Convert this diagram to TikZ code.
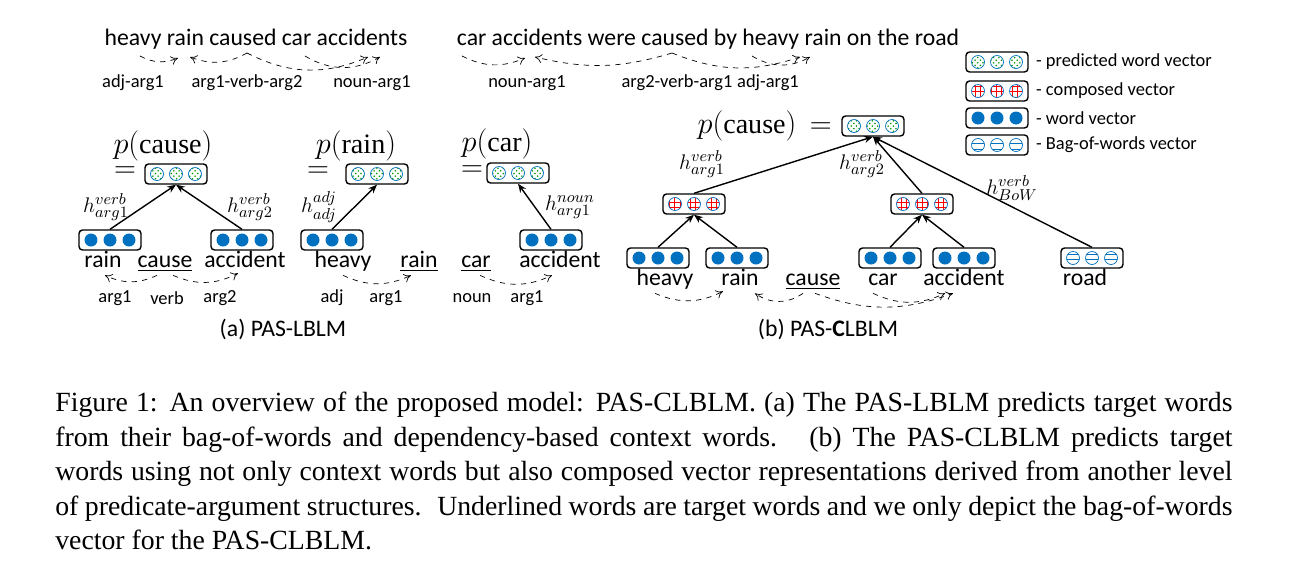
\documentclass[tikz,border=0pt]{standalone}
\usepackage{fontspec}
\setmainfont{Liberation Serif}
\newfontfamily\diag{Carlito}
\usetikzlibrary{arrows.meta,patterns,positioning}
\definecolor{wblue}{RGB}{0,112,192}

\tikzset{
  vbox/.style={draw,thick,rounded corners=2pt,minimum width=1.24cm,minimum height=0.4cm,inner sep=0pt},
  dot/.style={circle,draw=none,minimum size=0.26cm,inner sep=0pt},
  pred/.style={dot,draw=wblue,thin,pattern=crosshatch dots,pattern color=green!60!black},
  comp/.style={dot,draw=wblue,thin,pattern=grid,pattern color=red},
  word/.style={dot,fill=wblue},
  bow/.style={dot,draw=wblue,thin,pattern=horizontal lines,pattern color=wblue},
  wd/.style={font=\diag\fontsize{13.5}{15}\selectfont,inner sep=1pt,text height=0.75em,text depth=0.3em},
  sm/.style={font=\diag\fontsize{10.5}{12}\selectfont,inner sep=1pt},
  hl/.style={font=\fontsize{13}{15}\selectfont,inner sep=0pt},
  big/.style={font=\fontsize{16}{18}\selectfont},
  dep/.style={dashed,thin,-{To[length=4pt,width=5pt]}},
  up/.style={thick,-{Stealth[length=5pt,width=4pt]}},
}
% vector box with three dots
\newcommand\vecnode[3]{%
  \node[vbox] (#1) at (#2) {};
  \foreach \dx in {-19,0,19} \path (#1) ++(\dx,0) node[#3] {};
}

\begin{document}
\begin{tikzpicture}[x=0.02cm,y=-0.02cm]
  \useasboundingbox (0,0) rectangle (1315,582);

  % top sentences
  \node[wd] (s1) at (256,42) {heavy rain caused car accidents};
  \node[wd] (s2) at (708,42) {car accidents were caused by heavy rain on the road};
  \coordinate (a1) at (140,56); \coordinate (a2) at (178,58);
  \coordinate (a3) at (247,53); \coordinate (a4) at (190,57);
  \coordinate (a5) at (368,57); \coordinate (a6) at (305,56);
  \coordinate (a7) at (380,57);
  \draw[dep] (a1) to[bend right=25] (a2);
  \draw[dep] (a3) to[bend left=25] (a4);
  \draw[dep] (a3) to[bend right=25] (a5);
  \draw[dep] (a6) to[bend right=30] (a7);
  \node[sm] (l1) at (133,83) {adj-arg1};
  \node[sm] (l2) at (247,83) {arg1-verb-arg2};
  \node[sm] (l3) at (372,83) {noun-arg1};

  \coordinate (b1) at (462,56); \coordinate (b2) at (525,58);
  \coordinate (b3) at (672,53); \coordinate (b4) at (535,57);
  \coordinate (b5) at (800,57); \coordinate (b6) at (752,56);
  \coordinate (b7) at (810,57);
  \draw[dep] (b1) to[bend right=25] (b2);
  \draw[dep] (b3) to[bend left=15] (b4);
  \draw[dep] (b3) to[bend right=20] (b5);
  \draw[dep] (b6) to[bend right=30] (b7);
  \node[sm] (l4) at (527,83) {noun-arg1};
  \node[sm] (l5) at (677,83) {arg2-verb-arg1};
  \node[sm] (l6) at (768,83) {adj-arg1};

  % legend
  \vecnode{k1}{997,62}{pred}
  \vecnode{k2}{997,91}{comp}
  \vecnode{k3}{997,118}{word}
  \vecnode{k4}{997,145}{bow}
  \node[sm,anchor=west] at ([xshift=3pt]k1.east) {- predicted word vector};
  \node[sm,anchor=west] at ([xshift=3pt]k2.east) {- composed vector};
  \node[sm,anchor=west] at ([xshift=3pt]k3.east) {- word vector};
  \node[sm,anchor=west] at ([xshift=3pt]k4.east) {- Bag-of-words vector};

  % (a) p(cause)
  \node[big] (pa) at (163,146) {$p(\mathrm{cause})$};
  \node[big] at (125,172) {$=$};
  \vecnode{ga}{176,174}{pred}
  \vecnode{ra}{110,240}{word}
  \vecnode{ca}{242,240}{word}
  \draw[up] (ra.north) -- (ga.south);
  \draw[up] (ca.north) -- (ga.south);
  \node[hl] at (106,207) {$h^{verb}_{arg1}$};
  \node[hl] at (250,207) {$h^{verb}_{arg2}$};
  \node[wd] (w1) at (103,264) {rain};
  \node[wd] (w2) at (165,264) {\underline{cause}};
  \node[wd] (w3) at (245,264) {accident};
  \draw[dep] (w2.south) ++(-8,0) to[bend left=25] ++(-52,0);
  \draw[dep] (w2.south) ++(8,0) to[bend right=25] ++(65,-2);
  \node[sm] at (115,298) {arg1};
  \node[sm] at (167,298) {verb};
  \node[sm] at (220,298) {arg2};

  % (a) p(rain)
  \node[big] (pr) at (356,146) {$p(\mathrm{rain})$};
  \node[big] at (318,172) {$=$};
  \vecnode{gr}{377,174}{pred}
  \vecnode{hr}{332,240}{word}
  \draw[up] (hr.north) -- (gr.south);
  \node[hl] at (319,207) {$h^{adj}_{adj}$};
  \node[wd] (w4) at (343,264) {heavy};
  \node[wd] (w5) at (419,264) {\underline{rain}};
  \draw[dep] (w4.south) ++(0,0) to[bend right=25] ++(68,0);
  \node[sm] at (332,298) {adj};
  \node[sm] at (386,298) {arg1};

  % (a) p(car)
  \node[big] (pc) at (497,144) {$p(\mathrm{car})$};
  \node[big] at (472,171) {$=$};
  \vecnode{gc}{518,173}{pred}
  \vecnode{ac}{551,240}{word}
  \draw[up] (ac.north) -- (gc.south);
  \node[hl] at (570,207) {$h^{noun}_{arg1}$};
  \node[wd] (w6) at (476,264) {\underline{car}};
  \node[wd] (w7) at (560,264) {accident};
  \draw[dep] (w6.south) ++(4,0) to[bend right=25] ++(72,0);
  \node[sm] at (472,298) {noun};
  \node[sm] at (527,298) {arg1};

  \node[wd] at (283,333) {(a) PAS-LBLM};

  % (b) PAS-CLBLM
  \node[big,anchor=east] (pb) at (838,126) {$p(\mathrm{cause})\,=$};
  \vecnode{gb}{873,126}{pred}
  \vecnode{m1}{694,204}{comp}
  \vecnode{m2}{922,204}{comp}
  \vecnode{v1}{658,258}{word}
  \vecnode{v2}{737,258}{word}
  \vecnode{v3}{890,258}{word}
  \vecnode{v4}{964,258}{word}
  \vecnode{v5}{1092,258}{bow}
  \draw[up] (v1.north) -- (m1.south);
  \draw[up] (v2.north) -- (m1.south);
  \draw[up] (v3.north) -- (m2.south);
  \draw[up] (v4.north) -- (m2.south);
  \draw[up] (m1.north) -- (gb.south);
  \draw[up] (m2.north) -- (gb.south);
  \draw[up] (v5.north) -- (gb.south);
  \node[hl] at (702,164) {$h^{verb}_{arg1}$};
  \node[hl] at (862,164) {$h^{verb}_{arg2}$};
  \node[hl] at (1012,188) {$h^{verb}_{BoW}$};
  \node[wd] (x1) at (665,282) {heavy};
  \node[wd] (x2) at (740,282) {rain};
  \node[wd] (x3) at (813,282) {\underline{cause}};
  \node[wd] (x4) at (883,282) {car};
  \node[wd] (x5) at (964,282) {accident};
  \node[wd] (x6) at (1085,282) {road};
  \draw[dep] (x1.south) ++(-10,0) to[bend right=25] ++(68,-2);
  \draw[dep] (x3.south) ++(-10,0) to[bend left=35] ++(-48,0);
  \draw[dep] (x3.south) ++(2,0) to[bend right=20] ++(138,0);
  \draw[dep] (x4.south) ++(-10,0) to[bend right=25] ++(72,0);
  \node[wd] at (828,333) {(b) PAS-\textbf{C}LBLM};

  % figure caption
  \node[anchor=north west,inner sep=0pt,text width=670pt,align=justify,
        font=\fontsize{15.8}{19.6}\selectfont] (cap) at (55,392)
   {Figure 1: An overview of the proposed model: PAS-CLBLM. (a) The PAS-LBLM predicts target words from their bag-of-words and dependency-based context words. \ (b) The PAS-CLBLM predicts target words using not only context words but also composed vector representations derived from another level of predicate-argument structures. \ Underlined words are target words and we only depict the bag-of-words vector for the PAS-CLBLM.};
\end{tikzpicture}
\end{document}
